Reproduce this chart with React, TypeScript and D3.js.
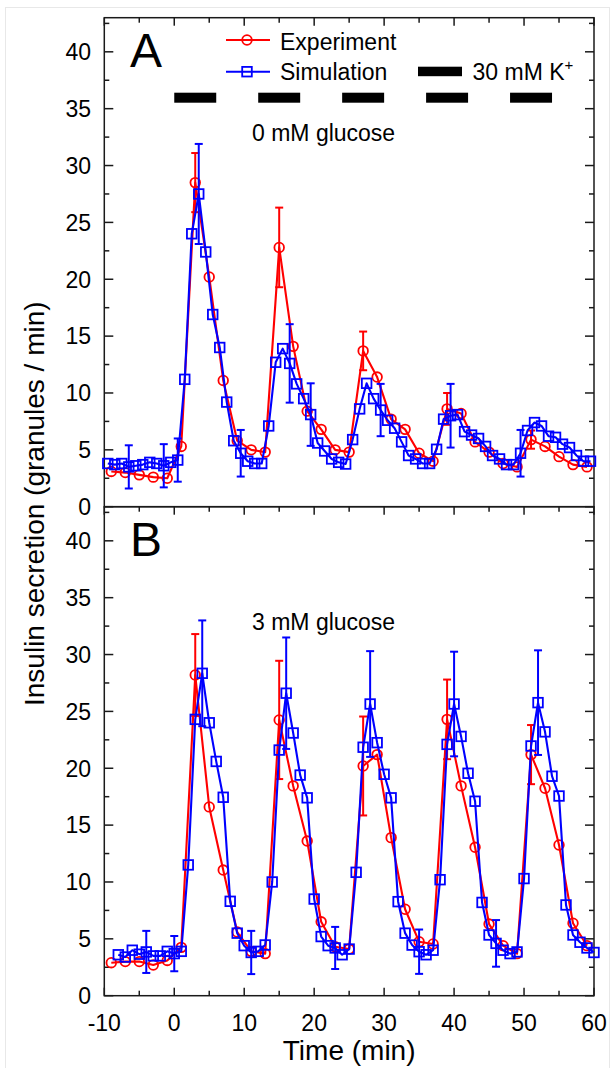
import React from 'react';
import * as d3 from 'd3';

// ---------- data ----------
const expTimes = [-9, -7, -5, -3, -1, 1, 3, 5, 7, 9, 11, 13, 15, 17, 19, 21, 23, 25, 27, 29, 31, 33, 35, 37, 39, 41, 43, 45, 47, 49, 51, 53, 55, 57, 59];

const expA = [3.1, 3.0, 2.8, 2.6, 2.5, 5.3, 28.5, 20.2, 11.1, 5.8, 5.0, 4.8, 22.8, 14.1, 8.4, 6.8, 5.0, 4.8, 13.7, 11.4, 7.7, 6.8, 4.7, 4.0, 8.6, 8.2, 5.7, 4.8, 3.8, 3.5, 5.9, 5.3, 4.4, 3.7, 3.5];

const simTimesA = [-9.5, -8.5, -7.5, -6.5, -5.5, -4.5, -3.5, -2.5, -1.5, -0.5, 0.5, 1.5, 2.5, 3.5, 4.5, 5.5, 6.5, 7.5, 8.5, 9.5, 10.5, 11.5, 12.5, 13.5, 14.5, 15.5, 16.5, 17.5, 18.5, 19.5, 20.5, 21.5, 22.5, 23.5, 24.5, 25.5, 26.5, 27.5, 28.5, 29.5, 30.5, 31.5, 32.5, 33.5, 34.5, 35.5, 36.5, 37.5, 38.5, 39.5, 40.5, 41.5, 42.5, 43.5, 44.5, 45.5, 46.5, 47.5, 48.5, 49.5, 50.5, 51.5, 52.5, 53.5, 54.5, 55.5, 56.5, 57.5, 58.5, 59.5];

const simA = [3.8, 3.7, 3.8, 3.5, 3.6, 3.7, 3.9, 3.8, 3.6, 3.9, 4.1,
  11.2, 24.0, 27.5, 22.4, 16.9, 14.0, 9.2, 5.8, 4.7,
  4.0, 3.8, 3.8, 7.1, 12.7, 13.9, 12.6, 10.8, 9.5, 8.1,
  5.6, 4.9, 4.2, 3.9, 3.75, 5.9, 8.6, 10.85, 9.5, 8.5,
  7.6, 6.9, 5.7, 4.5, 4.2, 3.8, 3.8, 5.05, 7.7, 8.0,
  8.1, 6.6, 6.3, 6.0, 5.3, 4.5, 4.2, 3.7, 3.7, 4.7,
  6.7, 7.4, 7.1, 6.2, 6.1, 5.5, 5.2, 4.5, 4.0, 4.0];

const expB = [2.9, 3.0, 3.0, 2.7, 3.1, 4.25, 28.2, 16.6, 11.05, 5.6, 3.9, 3.7, 24.25, 18.45, 13.6, 6.5, 4.3, 4.1, 20.2, 21.2, 13.9, 7.6, 4.75, 4.55, 24.3, 18.45, 13.05, 6.3, 4.4, 3.7, 21.2, 18.24, 13.25, 6.37, 4.4];

const simTimesB = [-8, -7, -6, -5, -4, -3, -2, -1, 0, 1, 2, 3, 4, 5, 6, 7, 8, 9, 10, 11, 12, 13, 14, 15, 16, 17, 18, 19, 20, 21, 22, 23, 24, 25, 26, 27, 28, 29, 30, 31, 32, 33, 34, 35, 36, 37, 38, 39, 40, 41, 42, 43, 44, 45, 46, 47, 48, 49, 50, 51, 52, 53, 54, 55, 56, 57, 58, 59, 60];

const simB = [3.6, 3.4, 4.0, 3.65, 3.85, 3.5, 3.5, 3.9, 3.7, 3.9,
  11.5, 24.3, 28.35, 24.0, 20.6, 17.45, 8.3, 5.5, 4.4, 3.8,
  3.9, 4.46, 10.0, 21.6, 26.6, 23.1, 19.4, 17.4, 8.5, 5.2,
  4.4, 4.2, 3.6, 4.1, 10.85, 21.85, 25.65, 22.25, 19.47, 17.4,
  8.27, 5.5, 4.45, 3.87, 3.6, 4.0, 10.2, 22.1, 25.65, 22.8,
  19.56, 17.1, 8.2, 5.34, 4.6, 4.0, 3.7, 3.85, 10.3, 21.96,
  25.77, 23.2, 19.3, 17.56, 7.98, 5.34, 4.7, 4.2, 3.8];

// error bars (time, +/- value)
const expErrTimes = [3, 15, 27, 39, 51];
const expErrA = [2.6, 3.5, 1.7, 1.4, 0.8];
const expErrB = [3.6, 5.2, 4.35, 3.5, 2.6];
const simErrTimesA = [-6.5, -1.5, 0.5, 3.5, 9.5, 16.5, 19.5, 29.5, 39.5, 49.5];
const simErrA = [1.9, 1.9, 1.9, 4.4, 2.05, 3.45, 2.75, 2.3, 2.8, 2.05];
const simErrTimesB = [-4, 0, 4, 11, 16, 23, 28, 35, 40, 46, 52];
const simErrB = [1.85, 1.55, 4.65, 1.9, 4.9, 1.85, 4.65, 1.95, 4.6, 2.05, 4.6];

// 30 mM K+ pulses
const pulseStarts = [0, 12, 24, 36, 48];
const pulseLength = 6;

const xTicks = [-10, 0, 10, 20, 30, 40, 50, 60];
const yTicks = [0, 5, 10, 15, 20, 25, 30, 35, 40];

// ---------- layout ----------
const W = 614;
const H = 1068;
const X0 = 104.3;
const X1 = 594;
const TOP_A = 17.7;
const MID = 506.7;
const BOT = 995.7;
const FONT = '"Liberation Sans", Arial, Helvetica, sans-serif';
const RED = '#ff0000';
const BLUE = '#0000ff';
const AX = '#1a1a1a';
const CR = 4.8;
const SQ = 9.6;

const x = d3.scaleLinear().domain([-10, 60]).range([X0, X1]);
const yA = d3.scaleLinear().domain([0, 43]).range([MID, TOP_A]);
const yB = d3.scaleLinear().domain([0, 43]).range([BOT, MID]);

type Scale = d3.ScaleLinear<number, number>;

function Series({ times, vals, errT, errV, y, color, marker }: {
  times: number[]; vals: number[]; errT: number[]; errV: number[]; y: Scale; color: string; marker: 'circle' | 'square';
}) {
  const line = d3.line<number>().x((_, i) => x(times[i])).y((v) => y(v));
  const cap = 4;
  return (
    <g>
      {errT.map((t, i) => {
        const v = vals[times.indexOf(t)];
        const e = errV[i];
        const cx = x(t);
        return (
          <g key={'e' + i} stroke={color} strokeWidth={2} fill="none">
            <line x1={cx} x2={cx} y1={y(v + e)} y2={y(v - e)} />
            <line x1={cx - cap} x2={cx + cap} y1={y(v + e)} y2={y(v + e)} />
            <line x1={cx - cap} x2={cx + cap} y1={y(v - e)} y2={y(v - e)} />
          </g>
        );
      })}
      <path d={line(vals) || ''} fill="none" stroke={color} strokeWidth={2.1} strokeLinejoin="round" />
      {vals.map((v, i) =>
        marker === 'circle' ? (
          <circle key={i} cx={x(times[i])} cy={y(v)} r={CR} fill="none" stroke={color} strokeWidth={1.8} />
        ) : (
          <rect key={i} x={x(times[i]) - SQ / 2} y={y(v) - SQ / 2} width={SQ} height={SQ} fill="none" stroke={color} strokeWidth={1.8} />
        )
      )}
    </g>
  );
}

function Panel({ y, top, bottom, label, glucose, exp, expErr, simT, sim, simErrT, simErr, bottomTicksUp, showLegend }: any) {
  const majY = yTicks;
  const minY = d3.range(2.5, 43, 5);
  const majX = xTicks;
  const minX = d3.range(-5, 60, 10);
  return (
    <g>
      <rect x={X0} y={top} width={X1 - X0} height={bottom - top} fill="none" stroke={AX} strokeWidth={1.5} />
      {majY.map((v) => (
        <g key={'my' + v} stroke={AX} strokeWidth={1.5}>
          <line x1={X0} x2={X0 + 9} y1={y(v)} y2={y(v)} />
          <line x1={X1} x2={X1 - 9} y1={y(v)} y2={y(v)} />
        </g>
      ))}
      {minY.map((v) => (
        <g key={'ny' + v} stroke={AX} strokeWidth={1.5}>
          <line x1={X0} x2={X0 + 5} y1={y(v)} y2={y(v)} />
          <line x1={X1} x2={X1 - 5} y1={y(v)} y2={y(v)} />
        </g>
      ))}
      {majX.map((t) => (
        <line key={'tx' + t} x1={x(t)} x2={x(t)} y1={top} y2={top + 8} stroke={AX} strokeWidth={1.5} />
      ))}
      {minX.map((t) => (
        <line key={'tn' + t} x1={x(t)} x2={x(t)} y1={top} y2={top + 5} stroke={AX} strokeWidth={1.5} />
      ))}
      {bottomTicksUp && majX.map((t) => (
        <line key={'bx' + t} x1={x(t)} x2={x(t)} y1={bottom} y2={bottom - 8} stroke={AX} strokeWidth={1.5} />
      ))}
      {bottomTicksUp && minX.map((t) => (
        <line key={'bn' + t} x1={x(t)} x2={x(t)} y1={bottom} y2={bottom - 5} stroke={AX} strokeWidth={1.5} />
      ))}
      {majY.map((v) => (
        <text key={'yl' + v} x={91} y={y(v)} dy="0.36em" textAnchor="end" fontSize={23} fontFamily={FONT} fill="#000">
          {v}
        </text>
      ))}
      <text x={130} y={top + 49.5} fontSize={48} fontFamily={FONT} fill="#000">{label}</text>
      <text x={252} y={top + 123.5} fontSize={23} fontFamily={FONT} fill="#000">{glucose}</text>

      {showLegend && (
        <g>
          {pulseStarts.map((s) => (
            <rect key={'p' + s} x={x(s)} y={92.7} width={x(s + pulseLength) - x(s)} height={10} fill="#000" />
          ))}
          <line x1={226} x2={270} y1={40} y2={40} stroke={RED} strokeWidth={2} />
          <circle cx={247} cy={40} r={CR} fill="none" stroke={RED} strokeWidth={1.8} />
          <text x={280} y={49.5} fontSize={23} fontFamily={FONT} fill="#000">Experiment</text>
          <line x1={226} x2={270} y1={71.7} y2={71.7} stroke={BLUE} strokeWidth={2} />
          <rect x={247 - SQ / 2} y={71.7 - SQ / 2} width={SQ} height={SQ} fill="none" stroke={BLUE} strokeWidth={1.8} />
          <text x={280} y={80} fontSize={23} fontFamily={FONT} fill="#000">Simulation</text>
          <rect x={418} y={66.7} width={44} height={9.5} fill="#000" />
          <text x={472.5} y={80} fontSize={23} fontFamily={FONT} fill="#000">
            30 mM K<tspan dy={-10} fontSize={15}>+</tspan>
          </text>
        </g>
      )}

      <Series times={expTimes} vals={exp} errT={expErrTimes} errV={expErr} y={y} color={RED} marker="circle" />
      <Series times={simT} vals={sim} errT={simErrT} errV={simErr} y={y} color={BLUE} marker="square" />
    </g>
  );
}

export default function App() {
  return (
    <svg width={W} height={H} viewBox={`0 0 ${W} ${H}`} style={{ position: 'absolute', left: 0, top: 0, background: '#fff' }}>
      <rect x={0} y={0} width={W} height={H} fill="#fff" />
      <rect x={5.5} y={7.5} width={604} height={H} fill="none" stroke="#e8e8e8" strokeWidth={1} />
      <Panel y={yA} top={TOP_A} bottom={MID} label="A" glucose="0 mM glucose" exp={expA} expErr={expErrA}
        simT={simTimesA} sim={simA} simErrT={simErrTimesA} simErr={simErrA} bottomTicksUp={false} showLegend />
      <Panel y={yB} top={MID} bottom={BOT} label="B" glucose="3 mM glucose" exp={expB} expErr={expErrB}
        simT={simTimesB} sim={simB} simErrT={simErrTimesB} simErr={simErrB} bottomTicksUp showLegend={false} />
      {xTicks.map((t) => (
        <text key={'xl' + t} x={x(t)} y={1031} textAnchor="middle" fontSize={23} fontFamily={FONT} fill="#000">{t}</text>
      ))}
      <text x={(X0 + X1) / 2} y={1060} textAnchor="middle" fontSize={28} fontFamily={FONT} fill="#000">Time (min)</text>
      <text transform={`translate(44, ${(TOP_A + BOT) / 2 - 3}) rotate(-90)`} textAnchor="middle" fontSize={28} fontFamily={FONT} fill="#000">
        Insulin secretion (granules / min)
      </text>
    </svg>
  );
}
